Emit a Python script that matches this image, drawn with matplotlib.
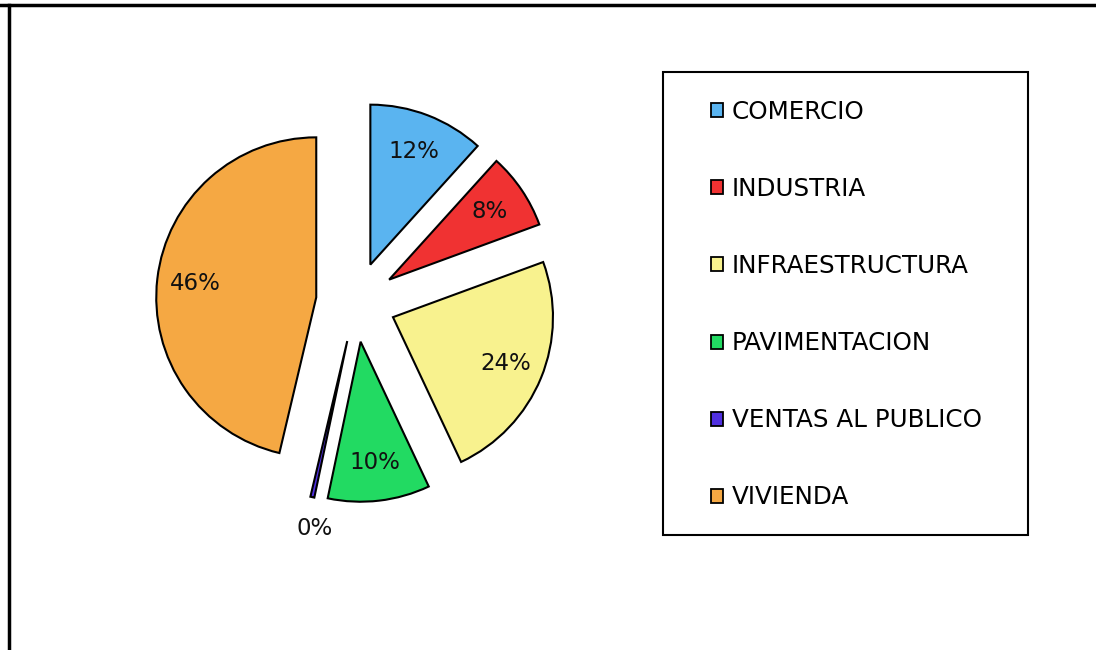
import numpy as np
import matplotlib.pyplot as plt
from matplotlib.lines import Line2D
from matplotlib.patches import Rectangle

# data
labels = ['COMERCIO', 'INDUSTRIA', 'INFRAESTRUCTURA', 'PAVIMENTACION',
          'VENTAS AL PUBLICO', 'VIVIENDA']
values = [11.7, 7.7, 23.6, 10.3, 0.4, 46.3]
colors = ['#5ab4f0', '#f03232', '#f8f28e', '#22da62', '#5030e0', '#f5a843']

plt.rcParams['font.family'] = ['DejaVu Sans']

fig = plt.figure(figsize=(10.96, 6.5), dpi=100)
fig.patch.set_facecolor('white')

# pie axes: center ~ (356, 302) px, radius ~160 px
ax = fig.add_axes([0.1204, 0.1908, 0.4088, 0.6892])
wedges, texts, autotexts = ax.pie(
    values, colors=colors, startangle=90, counterclock=False,
    explode=[0.25] * len(values), radius=1.0,
    autopct='%.0f%%', pctdistance=0.76,
    wedgeprops=dict(edgecolor='black', linewidth=1.5),
    textprops=dict(fontsize=16.5, color='#111111'))
ax.set_xlim(-1.4, 1.4)
ax.set_ylim(-1.4, 1.4)
ax.set_aspect('equal')
ax.axis('off')

# small slice label goes outside
for w, t, v in zip(wedges, autotexts, values):
    if v < 1:
        th = np.deg2rad((w.theta1 + w.theta2) / 2)
        cx, cy = w.center
        t.set_position((cx + 1.2 * np.cos(th) + 0.06, cy + 1.2 * np.sin(th)))

# legend box
fig.add_artist(Rectangle((663 / 1096, 1 - 535 / 650), 365 / 1096, 463 / 650,
                         transform=fig.transFigure, fill=False,
                         edgecolor='black', linewidth=1.5))
handles = [Rectangle((0, 0), 1, 1, facecolor=c, edgecolor='black', linewidth=1.3)
           for c in colors]
leg = fig.legend(handles, labels, loc='upper left',
                 bbox_to_anchor=(711 / 1096, 1 - 100 / 650),
                 frameon=False, fontsize=17.7, handlelength=0.5, handleheight=0.5,
                 handletextpad=0.35, labelspacing=2.16, borderpad=0,
                 borderaxespad=0)

# outer frame (top and left only)
fig.add_artist(Line2D([0, 1], [1 - 5 / 650] * 2, transform=fig.transFigure,
                      color='black', linewidth=2.5))
fig.add_artist(Line2D([9 / 1096] * 2, [0, 1 - 5 / 650], transform=fig.transFigure,
                      color='black', linewidth=2.5))

fig.savefig('out.png', dpi=100)
